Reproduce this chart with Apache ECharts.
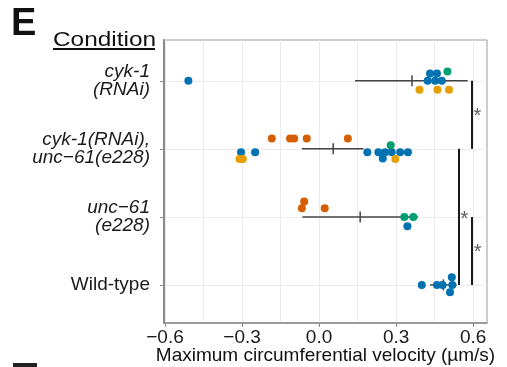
<!DOCTYPE html>
<html>
<head>
<meta charset="utf-8">
<script src="https://cdn.jsdelivr.net/npm/echarts@6/dist/echarts.min.js"></script>
<style>
html,body{margin:0;padding:0;background:#fff;}
#chart{width:507px;height:367px;}
</style>
</head>
<body>
<div id="chart"></div>
<script>
// ---- data ----
const categories = ['cyk-1\n(RNAi)', 'cyk-1(RNAi),\nunc−61(e228)', 'unc−61\n(e228)', 'Wild-type'];
const categoryItalic = [true, true, true, false];
const categoryPos = [1, 2, 3, 4];
const xTicks = [-0.6, -0.3, 0.0, 0.3, 0.6];
const xMinorGrid = [-0.45, -0.15, 0.15, 0.45];

// points: [velocity, row position incl. dodge]
const bluePts = [
  [-0.509, 1.000], [0.432, 0.891], [0.459, 0.891], [0.423, 1.000], [0.452, 1.000], [0.478, 1.000],
  [-0.304, 2.049], [-0.249, 2.049], [0.188, 2.049], [0.231, 2.049], [0.257, 2.049], [0.283, 2.049],
  [0.316, 2.049], [0.346, 2.049], [0.248, 2.141],
  [0.344, 3.137],
  [0.400, 4.000], [0.459, 4.000], [0.481, 4.000], [0.517, 3.887], [0.519, 4.000], [0.510, 4.107]
];
const vermPts = [
  [-0.184, 1.847], [-0.113, 1.847], [-0.097, 1.847], [-0.048, 1.847], [0.112, 1.847],
  [-0.058, 2.774], [-0.067, 2.872], [0.022, 2.872]
];
const greenPts = [
  [0.500, 0.862],
  [0.279, 1.946],
  [0.332, 3.000], [0.367, 3.000]
];
const orangePts = [
  [0.391, 1.132], [0.461, 1.132], [0.506, 1.132],
  [-0.310, 2.151], [-0.297, 2.151], [0.297, 2.151]
];

const errMean = [0.362, 0.055, 0.160, 0.484];
const errLow  = [0.140, -0.067, -0.065, 0.432];
const errHigh = [0.579, 0.173, 0.385, 0.536];

// significance brackets: [x, fromRow, toRow]
const brackets = [[0.595, 1, 2], [0.543, 2, 4], [0.595, 3, 4]];
const stars = [[0.617, 1.494], [0.566, 3.009], [0.618, 3.50]];

// ---- chart ----
const chart = echarts.init(document.getElementById('chart'), null, {renderer: 'canvas'});
const FONT = 'Liberation Sans, Arial, Helvetica, sans-serif';

const errData = errMean.map((m, i) => [errLow[i], errHigh[i], m, categoryPos[i]]);

function yLabel(v) {
  const i = categoryPos.indexOf(v);
  if (i < 0) return '';
  const st = categoryItalic[i] ? 'i' : 'n';
  return categories[i].split('\n').map(s => '{' + st + '|' + s + '}').join('\n');
}

const option = {
  animation: false,
  backgroundColor: '#ffffff',
  grid: {left: 164, right: 20, top: 40, bottom: 44, show: true, borderColor: '#9a9a9a', borderWidth: 1,
    containLabel: false, outerBoundsMode: 'none'},
  graphic: [
    {type: 'text', left: 11, top: 6, style: {text: 'E', font: 'bold 38px ' + FONT, fill: '#111'}},
    {type: 'text', x: 53, y: 30, scaleX: 1.22, style: {text: 'Condition', font: '20px ' + FONT, fill: '#111'}},
    {type: 'rect', shape: {x: 53, y: 48, width: 102, height: 2}, style: {fill: '#111'}},
    {type: 'rect', shape: {x: 13, y: 363, width: 24, height: 4}, style: {fill: '#222'}}
  ],
  xAxis: {
    type: 'value', min: -0.604, max: 0.654,
    name: 'Maximum circumferential velocity (µm/s)', nameLocation: 'middle', nameGap: 23,
    nameMoveOverlap: false,
    nameTextStyle: {fontFamily: FONT, fontSize: 19, color: '#111'},
    axisLine: {show: true, lineStyle: {color: '#8a8a8a', width: 1.5}},
    axisTick: {show: true, length: 4, customValues: xTicks, lineStyle: {color: '#8a8a8a'}},
    axisLabel: {customValues: xTicks, margin: 5, fontFamily: FONT, fontSize: 19, color: '#1a1a1a',
      formatter: v => (v < 0 ? '−' : '') + Math.abs(v).toFixed(1)},
    splitLine: {show: false}
  },
  yAxis: {
    type: 'value', min: 0.4, max: 4.56, inverse: true,
    axisLine: {show: true, onZero: false, lineStyle: {color: '#8a8a8a', width: 2}},
    axisTick: {show: true, length: 4, customValues: categoryPos, lineStyle: {color: '#8a8a8a'}},
    axisLabel: {customValues: categoryPos, margin: 14, formatter: yLabel,
      rich: {
        i: {fontFamily: FONT, fontSize: 19, fontStyle: 'italic', color: '#1a1a1a', lineHeight: 18, align: 'right'},
        n: {fontFamily: FONT, fontSize: 19, color: '#1a1a1a', lineHeight: 18, align: 'right'}
      }},
    splitLine: {show: false}
  },
  series: [
    {
      type: 'scatter', data: [], z: 0, silent: true,
      markLine: {
        silent: true, z: 0, symbol: ['none', 'none'], label: {show: false},
        lineStyle: {color: '#ebebeb', width: 1, type: 'solid'},
        data: xTicks.concat(xMinorGrid).map(v => ({xAxis: v}))
          .concat(categoryPos.map(v => ({yAxis: v})))
      }
    },
    {
      type: 'custom', z: 2, silent: true,
      data: errData,
      encode: {x: [0, 1, 2], y: 3},
      renderItem: function (params, api) {
        const y = api.value(3);
        const p0 = api.coord([api.value(0), y]);
        const p1 = api.coord([api.value(1), y]);
        const pm = api.coord([api.value(2), y]);
        const st = {stroke: '#444', lineWidth: 1.5};
        return {type: 'group', children: [
          {type: 'line', shape: {x1: p0[0], y1: p0[1], x2: p1[0], y2: p1[1]}, style: st},
          {type: 'line', shape: {x1: pm[0], y1: pm[1] - 5.5, x2: pm[0], y2: pm[1] + 5.5}, style: st}
        ]};
      },
      markLine: {
        silent: true, z: 2, symbol: ['none', 'none'], label: {show: false},
        lineStyle: {color: '#1a1a1a', width: 2, type: 'solid'},
        data: brackets.map(b => [{coord: [b[0], b[1]]}, {coord: [b[0], b[2]]}])
      }
    },
    {type: 'scatter', z: 3, symbolSize: 8, itemStyle: {color: '#0072B2', opacity: 1}, data: bluePts},
    {type: 'scatter', z: 3, symbolSize: 8, itemStyle: {color: '#D55E00', opacity: 1}, data: vermPts},
    {type: 'scatter', z: 3, symbolSize: 8, itemStyle: {color: '#009E73', opacity: 1}, data: greenPts},
    {type: 'scatter', z: 3, symbolSize: 8, itemStyle: {color: '#E69F00', opacity: 1}, data: orangePts},
    {
      type: 'scatter', z: 4, symbol: 'circle', symbolSize: 2, itemStyle: {color: 'rgba(0,0,0,0)'}, silent: true, data: stars,
      label: {show: true, position: 'inside', formatter: '*', fontFamily: FONT, fontSize: 20, color: '#333', offset: [0, 2]}
    }
  ]
};
chart.setOption(option);
</script>
</body>
</html>
